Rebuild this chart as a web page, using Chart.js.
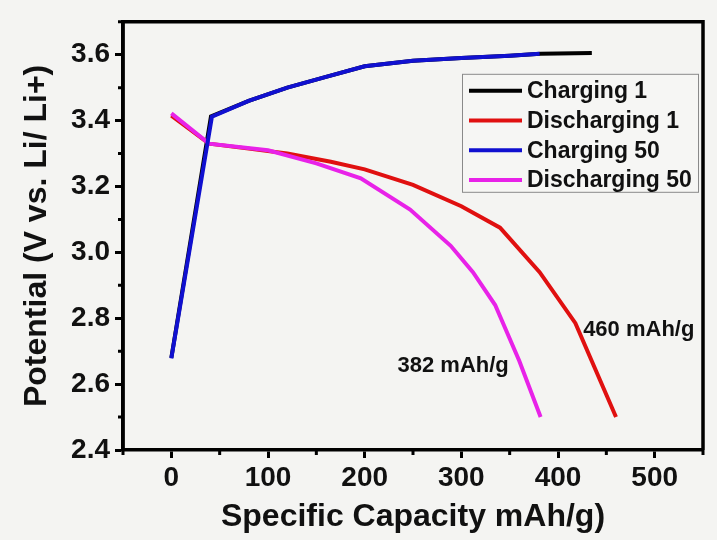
<!DOCTYPE html>
<html lang="en">
<head>
<meta charset="UTF-8">
<title>Charge / discharge curves</title>
<script src="https://cdn.jsdelivr.net/npm/chart.js"></script>
<style>
  html, body { margin: 0; padding: 0; background: #f4f4f2; }
  #wrap { width: 717px; height: 540px; }
</style>
</head>
<body>
<div id="wrap"><canvas id="grafico" width="717" height="540"></canvas></div>

<script>
// capacity (mAh/g) and potential (V) for each curve
const charge1Cap = [0, 41, 80, 120, 160, 200, 250, 300, 350, 382, 435];
const charge1V   = [2.68, 3.413, 3.46, 3.50, 3.533, 3.565, 3.582, 3.59, 3.597, 3.603, 3.605];

const discharge1Cap = [0, 39, 80, 120, 165, 200, 250, 300, 340, 381, 418, 460];
const discharge1V   = [3.415, 3.33, 3.315, 3.30, 3.275, 3.252, 3.205, 3.14, 3.075, 2.94, 2.785, 2.50];

const charge50Cap = [0, 42, 80, 120, 160, 200, 250, 300, 350, 381];
const charge50V   = [2.678, 3.412, 3.46, 3.50, 3.533, 3.565, 3.582, 3.59, 3.597, 3.603];

const discharge50Cap = [0, 39, 100, 150, 196, 247, 289, 312, 335, 360, 382];
const discharge50V   = [3.422, 3.33, 3.31, 3.27, 3.225, 3.13, 3.02, 2.94, 2.84, 2.67, 2.50];

const seriesNames = ['Charging 1', 'Discharging 1', 'Charging 50', 'Discharging 50'];
const seriesColors = ['#000000', '#e01010', '#1010d0', '#e822e8'];

const xTicks = [0, 100, 200, 300, 400, 500];
const yTicks = [2.4, 2.6, 2.8, 3.0, 3.2, 3.4, 3.6];
const xMinor = [-50, 50, 150, 250, 350, 450, 550];
const yMinor = [2.5, 2.7, 2.9, 3.1, 3.3, 3.5, 3.7];

// end capacity labels, anchored at [capacity, potential]
const noteTexts = ['460 mAh/g', '382 mAh/g'];
const noteAt = [[426, 2.764], [234, 2.654]];

function pares(xs, ys) {
  return xs.map((x, i) => ({ x: x, y: ys[i] }));
}

// frame + minor ticks
const moldura = {
  id: 'moldura',
  afterDraw(chart) {
    const { ctx, chartArea: a, scales } = chart;
    ctx.save();
    ctx.strokeStyle = '#000';
    ctx.lineWidth = 3.5;
    ctx.beginPath();
    ctx.moveTo(a.left, a.bottom);
    ctx.lineTo(a.left, a.top);
    ctx.lineTo(a.right, a.top);
    ctx.lineTo(a.right, a.bottom);
    ctx.stroke();

    ctx.lineWidth = 3;
    ctx.beginPath();
    xMinor.forEach(v => {
      const px = scales.x.getPixelForValue(v);
      ctx.moveTo(px, a.bottom);
      ctx.lineTo(px, a.bottom + 5);
    });
    yMinor.forEach(v => {
      const py = scales.y.getPixelForValue(v);
      ctx.moveTo(a.left, py);
      ctx.lineTo(a.left - 5, py);
    });
    ctx.stroke();
    ctx.restore();
  }
};

// legend box inside the plot, top right
const legendaDentro = {
  id: 'legendaDentro',
  afterDraw(chart) {
    const ctx = chart.ctx;
    const a = chart.chartArea;
    const bx = a.right - 241, by = a.top + 52, bw = 236, bh = 118;
    ctx.save();
    ctx.fillStyle = '#f6f6f4';
    ctx.fillRect(bx, by, bw, bh);
    ctx.strokeStyle = '#8a8a8a';
    ctx.lineWidth = 1;
    ctx.strokeRect(bx + 0.5, by + 0.5, bw, bh);

    ctx.font = 'bold 23px "Liberation Sans", Arial, sans-serif';
    ctx.textBaseline = 'middle';
    ctx.fillStyle = '#111';
    chart.data.datasets.forEach((ds, i) => {
      const cy = by + 17 + i * 29.7;
      ctx.strokeStyle = ds.borderColor;
      ctx.lineWidth = 4;
      ctx.beginPath();
      ctx.moveTo(bx + 7, cy);
      ctx.lineTo(bx + 60, cy);
      ctx.stroke();
      ctx.fillText(ds.label, bx + 65, cy + 1);
    });
    ctx.restore();
  }
};

const notas = {
  id: 'notas',
  afterDatasetsDraw(chart) {
    const { ctx, scales } = chart;
    ctx.save();
    ctx.font = 'bold 22px "Liberation Sans", Arial, sans-serif';
    ctx.fillStyle = '#111';
    ctx.textBaseline = 'middle';
    noteTexts.forEach((t, i) => {
      ctx.fillText(t, scales.x.getPixelForValue(noteAt[i][0]), scales.y.getPixelForValue(noteAt[i][1]));
    });
    ctx.restore();
  }
};

const fonteTick = { family: '"Liberation Sans", Arial, sans-serif', size: 28, weight: 'bold' };
const fonteTitulo = { family: '"Liberation Sans", Arial, sans-serif', size: 32, weight: 'bold' };

const ordem = [3, 2, 0, 1];
const cap = [charge1Cap, discharge1Cap, charge50Cap, discharge50Cap];
const volt = [charge1V, discharge1V, charge50V, discharge50V];

const ctx = document.getElementById('grafico').getContext('2d');

new Chart(ctx, {
  type: 'line',
  data: {
    datasets: seriesNames.map((nome, i) => ({
      label: nome,
      data: pares(cap[i], volt[i]),
      borderColor: seriesColors[i],
      backgroundColor: seriesColors[i],
      borderWidth: 4,
      pointRadius: 0,
      tension: 0,
      order: ordem[i]
    }))
  },
  options: {
    responsive: false,
    animation: false,
    layout: { padding: { top: 13, right: 14, left: 0, bottom: 0 } },
    plugins: {
      legend: { display: false },
      tooltip: { enabled: false }
    },
    scales: {
      x: {
        type: 'linear',
        min: -50,
        max: 550,
        afterBuildTicks: s => { s.ticks = xTicks.map(v => ({ value: v })); },
        afterFit: s => { s.height = 90; },
        grid: { drawOnChartArea: false, tickLength: 8, tickWidth: 3, tickColor: '#000' },
        border: { color: '#000', width: 3.5 },
        ticks: { color: '#111', font: fonteTick, padding: 3, maxRotation: 0 },
        title: { display: true, text: 'Specific Capacity mAh/g)', color: '#111', font: fonteTitulo, padding: { top: 0, bottom: 4 } }
      },
      y: {
        type: 'linear',
        min: 2.4,
        max: 3.7,
        afterBuildTicks: s => { s.ticks = yTicks.map(v => ({ value: v })); },
        afterFit: s => { s.width = 123; },
        grid: { drawOnChartArea: false, tickLength: 8, tickWidth: 3, tickColor: '#000' },
        border: { color: '#000', width: 3.5 },
        ticks: { color: '#111', font: fonteTick, padding: 5, callback: v => v.toFixed(1) },
        title: { display: true, text: 'Potential (V vs. Li/ Li+)', color: '#111', font: fonteTitulo, padding: { top: 18, bottom: 18 } }
      }
    }
  },
  plugins: [moldura, notas, legendaDentro]
});
</script>
</body>
</html>
